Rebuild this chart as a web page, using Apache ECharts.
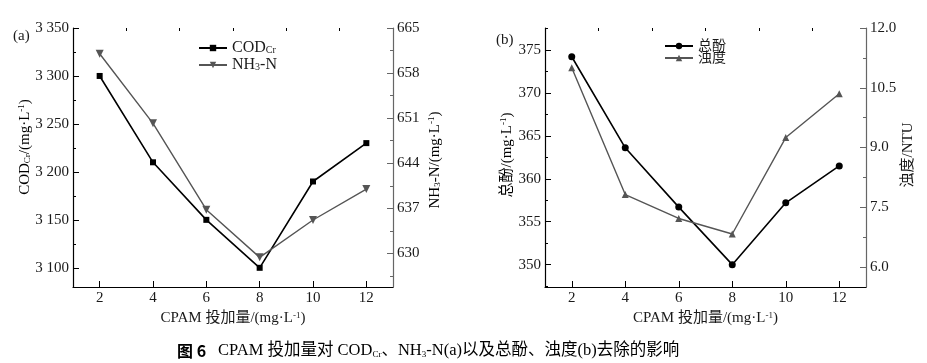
<!DOCTYPE html>
<html>
<head>
<meta charset="utf-8">
<script src="https://cdn.jsdelivr.net/npm/echarts@6/dist/echarts.min.js"></script>
<style>
html,body{margin:0;padding:0;background:#fff;}
#chart{width:927px;height:363px;}
</style>
</head>
<body>
<div id="chart"></div>
<script>
// ---- data ----
const cpamDose = [2, 4, 6, 8, 10, 12];
const codCr = [3300, 3210, 3150, 3100, 3190, 3230];
const nh3n = [661.0, 650.2, 636.8, 629.4, 635.2, 640.0];
const totalPhenol = [374.2, 363.6, 356.7, 350.0, 357.2, 361.5];
const turbidity = [11.0, 7.82, 7.22, 6.83, 9.25, 10.35];

// ---- ticks ----
const xTicks = [2, 4, 6, 8, 10, 12];
const xMinorTicks = [3, 5, 7, 9, 11];
const codTicks = [3100, 3150, 3200, 3250, 3300, 3350];
const codMinorTicks = [3125, 3175, 3225, 3275, 3325];
const nhTicks = [630, 637, 644, 651, 658, 665];
const nhMinorTicks = [626.5, 633.5, 640.5, 647.5, 654.5, 661.5];
const phTicks = [350, 355, 360, 365, 370, 375];
const phMinorTicks = [347.5, 352.5, 357.5, 362.5, 367.5, 372.5, 377.5];
const tuTicks = [6.0, 7.5, 9.0, 10.5, 12.0];
const tuMinorTicks = [6.75, 8.25, 9.75, 11.25];

const SERIF = '"Liberation Serif", "Noto Sans CJK SC", serif';
const TXT = '#1a1a1a';
const BLACK = '#000';
const GRAY = '#555';

const supRich = {
  sup: { fontSize: 9, verticalAlign: 'top', fontFamily: SERIF, color: TXT },
  sub: { fontSize: 9, verticalAlign: 'bottom', fontFamily: SERIF, color: TXT }
};

function mkX(grid, ticks, len, main, name) {
  return {
    type: 'value', gridIndex: grid, min: 1, max: 13,
    axisLine: { show: main, lineStyle: { color: BLACK, width: 1.2 } },
    axisTick: { show: true, inside: true, length: len, customValues: ticks,
      lineStyle: { color: BLACK, width: 1 } },
    axisLabel: { show: main, customValues: ticks, margin: 4,
      fontFamily: SERIF, fontSize: 15, color: TXT },
    splitLine: { show: false },
    name: main ? name : '',
    nameLocation: 'middle', nameGap: 22,
    nameTextStyle: { fontFamily: SERIF, fontSize: 15, color: TXT, rich: supRich }
  };
}

function mkY(grid, pos, min, max, ticks, len, main, color, fmt) {
  return {
    type: 'value', gridIndex: grid, position: pos, min: min, max: max,
    axisLine: { show: main, lineStyle: { color: color, width: 1.2 } },
    axisTick: { show: true, inside: true, length: len, customValues: ticks,
      lineStyle: { color: color, width: 1 } },
    axisLabel: { show: main, customValues: ticks, margin: 4,
      fontFamily: SERIF, fontSize: 15, color: TXT, formatter: fmt },
    splitLine: { show: false }
  };
}

const fmtThousand = v => {
  const s = String(Math.round(v));
  return s.length > 3 ? s.slice(0, s.length - 3) + ' ' + s.slice(-3) : s;
};
const fmtInt = v => String(Math.round(v));
const fmt1 = v => Number(v).toFixed(1);

const xName = 'CPAM 投加量/(mg·L{sup|-1})';

const option = {
  backgroundColor: '#fff',
  animation: false,
  grid: [
    { left: 73, top: 28, width: 320, height: 259, containLabel: false, outerBoundsMode: 'none' },
    { left: 545, top: 28, width: 321, height: 259, containLabel: false, outerBoundsMode: 'none' }
  ],
  xAxis: [
    mkX(0, xTicks, 6, true, xName),
    mkX(0, xMinorTicks, 3, false, ''),
    mkX(1, xTicks, 6, true, xName),
    mkX(1, xMinorTicks, 3, false, '')
  ],
  yAxis: [
    mkY(0, 'left', 3080, 3350, codTicks, 6, true, BLACK, fmtThousand),
    mkY(0, 'left', 3080, 3350, codMinorTicks, 3, false, BLACK, fmtThousand),
    mkY(0, 'right', 624.8, 665, nhTicks, 6, true, '#666', fmtInt),
    mkY(0, 'right', 624.8, 665, nhMinorTicks, 3, false, '#666', fmtInt),
    mkY(1, 'left', 347.4, 377.55, phTicks, 6, true, BLACK, fmtInt),
    mkY(1, 'left', 347.4, 377.55, phMinorTicks, 3, false, BLACK, fmtInt),
    mkY(1, 'right', 5.5, 12.0, tuTicks, 6, true, '#666', fmt1),
    mkY(1, 'right', 5.5, 12.0, tuMinorTicks, 3, false, '#666', fmt1)
  ],
  legend: [
    {
      data: ['CODCr', 'NH3-N'], orient: 'vertical', left: 198, top: 40, padding: 0,
      itemWidth: 28, itemHeight: 8, itemGap: 1,
      formatter: n => n === 'CODCr' ? '{t|COD}{s|Cr}' : '{t|NH}{s|3}{t|-N}',
      textStyle: { fontFamily: SERIF, fontSize: 16, color: TXT, lineHeight: 15,
        rich: { t: { fontSize: 16, fontFamily: SERIF, color: TXT, lineHeight: 15 },
                s: { fontSize: 10, fontFamily: SERIF, color: TXT, verticalAlign: 'bottom', lineHeight: 15 } } }
    },
    {
      data: ['总酚', '浊度'], orient: 'vertical', left: 664, top: 39, padding: 0,
      itemWidth: 28, itemHeight: 8, itemGap: -2,
      textStyle: { fontFamily: SERIF, fontSize: 14, color: TXT, lineHeight: 13 }
    }
  ],
  series: [
    {
      name: 'CODCr', type: 'line', xAxisIndex: 0, yAxisIndex: 0,
      data: cpamDose.map((x, i) => [x, codCr[i]]),
      symbol: 'rect', symbolSize: 6,
      itemStyle: { color: BLACK }, lineStyle: { color: BLACK, width: 1.6 }
    },
    {
      name: 'NH3-N', type: 'line', xAxisIndex: 0, yAxisIndex: 2,
      data: cpamDose.map((x, i) => [x, nh3n[i]]),
      symbol: 'triangle', symbolRotate: 180, symbolSize: 8,
      itemStyle: { color: GRAY }, lineStyle: { color: GRAY, width: 1.4 }
    },
    {
      name: '总酚', type: 'line', xAxisIndex: 2, yAxisIndex: 4,
      data: cpamDose.map((x, i) => [x, totalPhenol[i]]),
      symbol: 'circle', symbolSize: 7,
      itemStyle: { color: BLACK }, lineStyle: { color: BLACK, width: 1.6 }
    },
    {
      name: '浊度', type: 'line', xAxisIndex: 2, yAxisIndex: 6,
      data: cpamDose.map((x, i) => [x, turbidity[i]]),
      symbol: 'triangle', symbolSize: 7,
      itemStyle: { color: GRAY }, lineStyle: { color: GRAY, width: 1.4 }
    }
  ],
  graphic: [
    { type: 'text', x: 13, y: 36, style: { text: '(a)', font: '15px ' + SERIF, fill: TXT, align: 'left', verticalAlign: 'middle' } },
    { type: 'text', x: 496, y: 40, style: { text: '(b)', font: '15px ' + SERIF, fill: TXT, align: 'left', verticalAlign: 'middle' } },
    { type: 'text', x: 25, y: 147, rotation: Math.PI / 2,
      style: { text: '{t|COD}{s|Cr}{t|/(mg·L}{p|-1}{t|)}', align: 'center', verticalAlign: 'middle',
        rich: { t: { fontSize: 15, fontFamily: SERIF, color: TXT },
                s: { fontSize: 9, fontFamily: SERIF, color: TXT, verticalAlign: 'bottom' },
                p: { fontSize: 9, fontFamily: SERIF, color: TXT, verticalAlign: 'top' } } } },
    { type: 'text', x: 435, y: 160, rotation: Math.PI / 2,
      style: { text: '{t|NH}{s|3}{t|-N/(mg·L}{p|-1}{t|)}', align: 'center', verticalAlign: 'middle',
        rich: { t: { fontSize: 15, fontFamily: SERIF, color: TXT },
                s: { fontSize: 9, fontFamily: SERIF, color: TXT, verticalAlign: 'bottom' },
                p: { fontSize: 9, fontFamily: SERIF, color: TXT, verticalAlign: 'top' } } } },
    { type: 'text', x: 507, y: 155, rotation: Math.PI / 2,
      style: { text: '{t|总酚/(mg·L}{p|-1}{t|)}', align: 'center', verticalAlign: 'middle',
        rich: { t: { fontSize: 15, fontFamily: SERIF, color: TXT },
                p: { fontSize: 9, fontFamily: SERIF, color: TXT, verticalAlign: 'top' } } } },
    { type: 'text', x: 908, y: 155, rotation: Math.PI / 2,
      style: { text: '浊度/NTU', align: 'center', verticalAlign: 'middle',
        font: '15px ' + SERIF, fill: TXT } },
    { type: 'text', x: 177, y: 351,
      style: { text: '{b|图 6}{g| }{t|CPAM 投加量对 COD}{s|Cr}{t|、NH}{s|3}{t|-N(a)以及总酚、浊度(b)去除的影响}',
        align: 'left', verticalAlign: 'middle',
        rich: { b: { fontSize: 16, fontWeight: 'bold', fontFamily: '"Noto Sans CJK SC", "Liberation Sans", sans-serif', color: '#111' },
                g: { fontSize: 16, width: 12 },
                t: { fontSize: 16.5, fontFamily: SERIF, color: '#111' },
                s: { fontSize: 9, fontFamily: SERIF, color: '#111', verticalAlign: 'bottom' } } } }
  ]
};

const chart = echarts.init(document.getElementById('chart'), null, { renderer: 'canvas' });
chart.setOption(option);
</script>
</body>
</html>
